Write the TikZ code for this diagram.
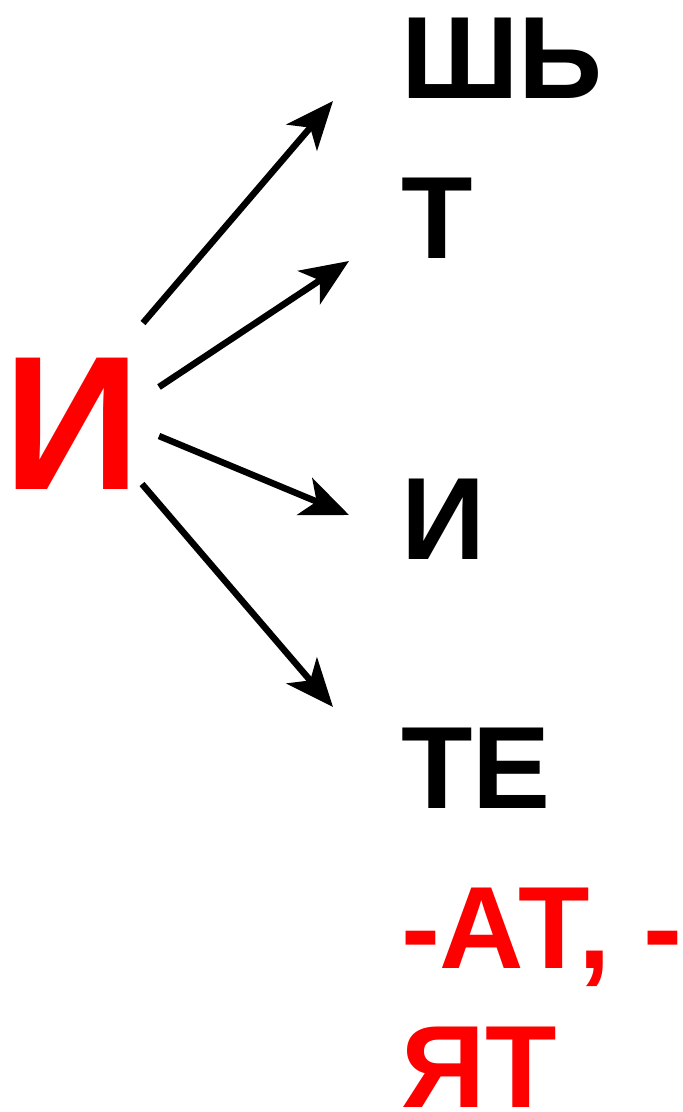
\documentclass[tikz,border=0pt]{standalone}
\usepackage{fontspec}
\setmainfont{Liberation Sans}
\usetikzlibrary{arrows.meta}
\definecolor{pured}{RGB}{255,0,0}
\tikzset{
  word/.style={inner sep=0pt, outer sep=0pt, anchor=base west, font=\fontsize{117}{117}\selectfont\bfseries},
  bigword/.style={inner sep=0pt, outer sep=0pt, anchor=base west, font=\fontsize{191}{191}\selectfont\bfseries, text=pured},
  arr/.style={line width=6.5pt, -{Stealth[length=48pt, width=40pt, inset=13pt]}}
}
\begin{document}
\begin{tikzpicture}[x=1pt, y=-1pt]
\useasboundingbox (0,0) rectangle (683,1112);
\node[bigword] (src) at (4,489) {И};
\node[word] (t1) at (401,98) {ШЬ};
\node[word] (t2) at (401,258) {Т};
\node[word] (t3) at (401,559) {И};
\node[word] (t4) at (401,808) {ТЕ};
\node[word, text=pured] (s1) at (401,968) {-АТ, -};
\node[word, text=pured] (s2) at (401,1107) {ЯТ};
\coordinate (a1) at (143,323);
\coordinate (b1) at (333,101);
\coordinate (a2) at (159,387);
\coordinate (b2) at (349,261);
\coordinate (a3) at (159,436);
\coordinate (b3) at (349,515);
\coordinate (a4) at (142,484);
\coordinate (b4) at (333,707);
\draw[arr] (a1) -- (b1);
\draw[arr] (a2) -- (b2);
\draw[arr] (a3) -- (b3);
\draw[arr] (a4) -- (b4);
\end{tikzpicture}
\end{document}
